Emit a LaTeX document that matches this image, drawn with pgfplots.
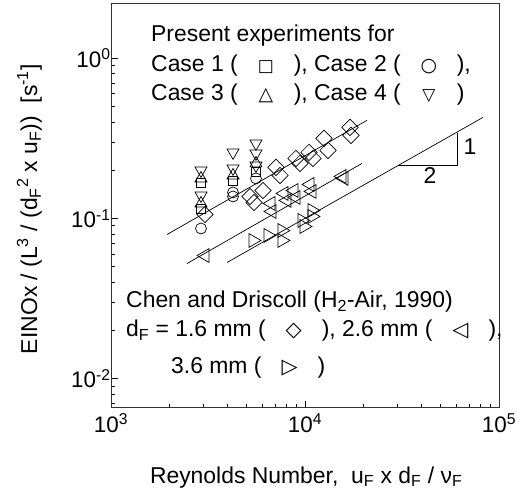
\documentclass[border=0pt]{standalone}
\usepackage{fontspec}
\setmainfont{Liberation Sans}
\newfontfamily\symfont{DejaVu Sans}
\usepackage{pgfplots}
\pgfplotsset{compat=1.18}
\newcommand{\sq}[2]{\makebox[56bp]{\fontsize{#2}{#2}\symfont #1}}
\newcommand{\bigtxt}{\fontsize{23}{27}\selectfont}
\begin{document}
\begin{tikzpicture}
\useasboundingbox (0,0) rectangle (531bp,495bp);
\begin{axis}[
  at={(111bp,87.5bp)}, anchor=south west,
  scale only axis, width=388bp, height=404bp,
  xmode=log, ymode=log,
  xmin=1000, xmax=100000, ymin=0.0066, ymax=2.2,
  xtick={1000,10000,100000},
  xticklabels={10\textsuperscript{3},10\textsuperscript{4},10\textsuperscript{5}},
  ytick={0.01,0.1,1},
  yticklabels={10\textsuperscript{-2},10\textsuperscript{-1},10\textsuperscript{0}},
  minor xtick={2000,3000,4000,5000,6000,7000,8000,9000,20000,30000,40000,50000,60000,70000,80000,90000},
  minor ytick={0.007,0.008,0.009,0.02,0.03,0.04,0.05,0.06,0.07,0.08,0.09,0.2,0.3,0.4,0.5,0.6,0.7,0.8,0.9},
  tick align=inside, xtick pos=bottom, ytick pos=left,
  major tick length=7bp, minor tick length=4bp,
  axis line style={line width=1bp, black!80},
  tick style={black, line width=0.8bp},
  tick label style={font=\fontsize{22.5}{26}\selectfont},
  yticklabel style={xshift=3bp},
  xticklabel style={yshift=-3bp},
  xlabel={Reynolds Number,\ \ u\textsubscript{F} x d\textsubscript{F} / ν\textsubscript{F}},
  ylabel={EINOx / (L\textsuperscript{3} / (d\textsubscript{F}\textsuperscript{2} x u\textsubscript{F}))\ \ [s\textsuperscript{-1}]},
  label style={font=\fontsize{23}{27}\selectfont},
  xlabel style={at={(axis description cs:0.503,-0.187)}, anchor=base},
  ylabel style={at={(axis description cs:-0.21,0.491)}, anchor=center},
  clip=false,
]
% fit lines
\addplot[black, line width=0.7bp, no marks] coordinates {(1944,0.0794) (20870,0.4100)};
\addplot[black, line width=0.7bp, no marks] coordinates {(2465,0.0523) (19670,0.2207)};
\addplot[black, line width=0.7bp, no marks] coordinates {(3963,0.0531) (82700,0.4278)};
% slope triangle
\addplot[black, line width=0.7bp, no marks] coordinates {(30160,0.2144) (60760,0.2144) (60760,0.3398)};
% Chen 1.6 mm (diamonds)
\addplot[only marks, mark=square, mark size=5.8pt, mark options={rotate=45, black, line width=0.7bp}] coordinates {
(3051,0.1059) (5206,0.1372) (5460,0.1259) (6074,0.1496) (7088,0.2084) (7433,0.1857)
(8986,0.2371) (9424,0.2207) (10486,0.2585) (10996,0.2371) (12527,0.3162) (13141,0.2661)
(17060,0.3706) (17270,0.3303)};
% Chen 2.6 mm (left triangles)
\addplot[only marks, mark=triangle, mark size=8pt, mark options={rotate=90, black, line width=0.7bp}] coordinates {
(3051,0.0587) (6679,0.1241) (6760,0.1106) (7795,0.1433) (8077,0.1296) (8777,0.1496)
(8986,0.1353) (10612,0.1631) (10867,0.1475) (15513,0.1830) (15885,0.1778)};
% Chen 3.6 mm (right triangles)
\addplot[only marks, mark=triangle, mark size=8pt, mark options={rotate=-90, black, line width=0.7bp}] coordinates {
(5395,0.0729) (6447,0.0783) (7611,0.0841) (7611,0.0729) (9650,0.0972) (9882,0.0891)
(10867,0.1122) (10867,0.1029)};
% Case 1 squares
\addplot[only marks, mark=square, mark size=4.5pt, mark options={black, line width=0.7bp}] coordinates {
(2910,0.1679) (2910,0.1155) (4255,0.1728) (5589,0.1967)};
% Case 2 circles
\addplot[only marks, mark=o, mark size=5.5pt, mark options={black, line width=0.7bp}] coordinates {
(2910,0.0866) (4255,0.1454) (4255,0.1372) (5589,0.1778)};
% Case 3 up triangles
\addplot[only marks, mark=triangle, mark size=7pt, mark options={black, line width=0.7bp}] coordinates {
(2910,0.1778) (2910,0.1241) (4255,0.1857) (5589,0.2207)};
% Case 4 down triangles
\addplot[only marks, mark=triangle, mark size=7pt, mark options={rotate=180, black, line width=0.7bp}] coordinates {
(2910,0.1995) (2910,0.1392) (4255,0.2585) (4255,0.2054) (5589,0.2942) (5589,0.2548) (5589,0.2144)};
% texts
\node[anchor=base west, inner sep=0pt, font=\bigtxt] at (rel axis cs:0.1031,0.9054) {Present experiments for};
\node[anchor=base west, inner sep=0pt, font=\bigtxt] at (rel axis cs:0.1031,0.8312) {Case 1 (\sq{□}{17}), Case 2 (\sq{○}{19}),};
\node[anchor=base west, inner sep=0pt, font=\bigtxt] at (rel axis cs:0.1031,0.7611) {Case 3 (\sq{△}{19}), Case 4 (\sq{▽}{17})};
\node[anchor=base west, inner sep=0pt, font=\bigtxt] at (rel axis cs:0.0387,0.2463) {Chen and Driscoll (H\textsubscript{2}-Air, 1990)};
\node[anchor=base west, inner sep=0pt, font=\bigtxt] at (rel axis cs:0.0387,0.1752) {d\textsubscript{F} = 1.6 mm (\sq{◇}{21}), 2.6 mm (\sq{◁}{21}),};
\node[anchor=base west, inner sep=0pt, font=\bigtxt] at (rel axis cs:0.1546,0.0854) {3.6 mm (\sq{▷}{21})};
\node[anchor=center, inner sep=0pt, font=\bigtxt] at (axis cs:70880,0.2818) {1};
\node[anchor=center, inner sep=0pt, font=\bigtxt] at (axis cs:44060,0.1857) {2};
\end{axis}
\end{tikzpicture}
\end{document}
